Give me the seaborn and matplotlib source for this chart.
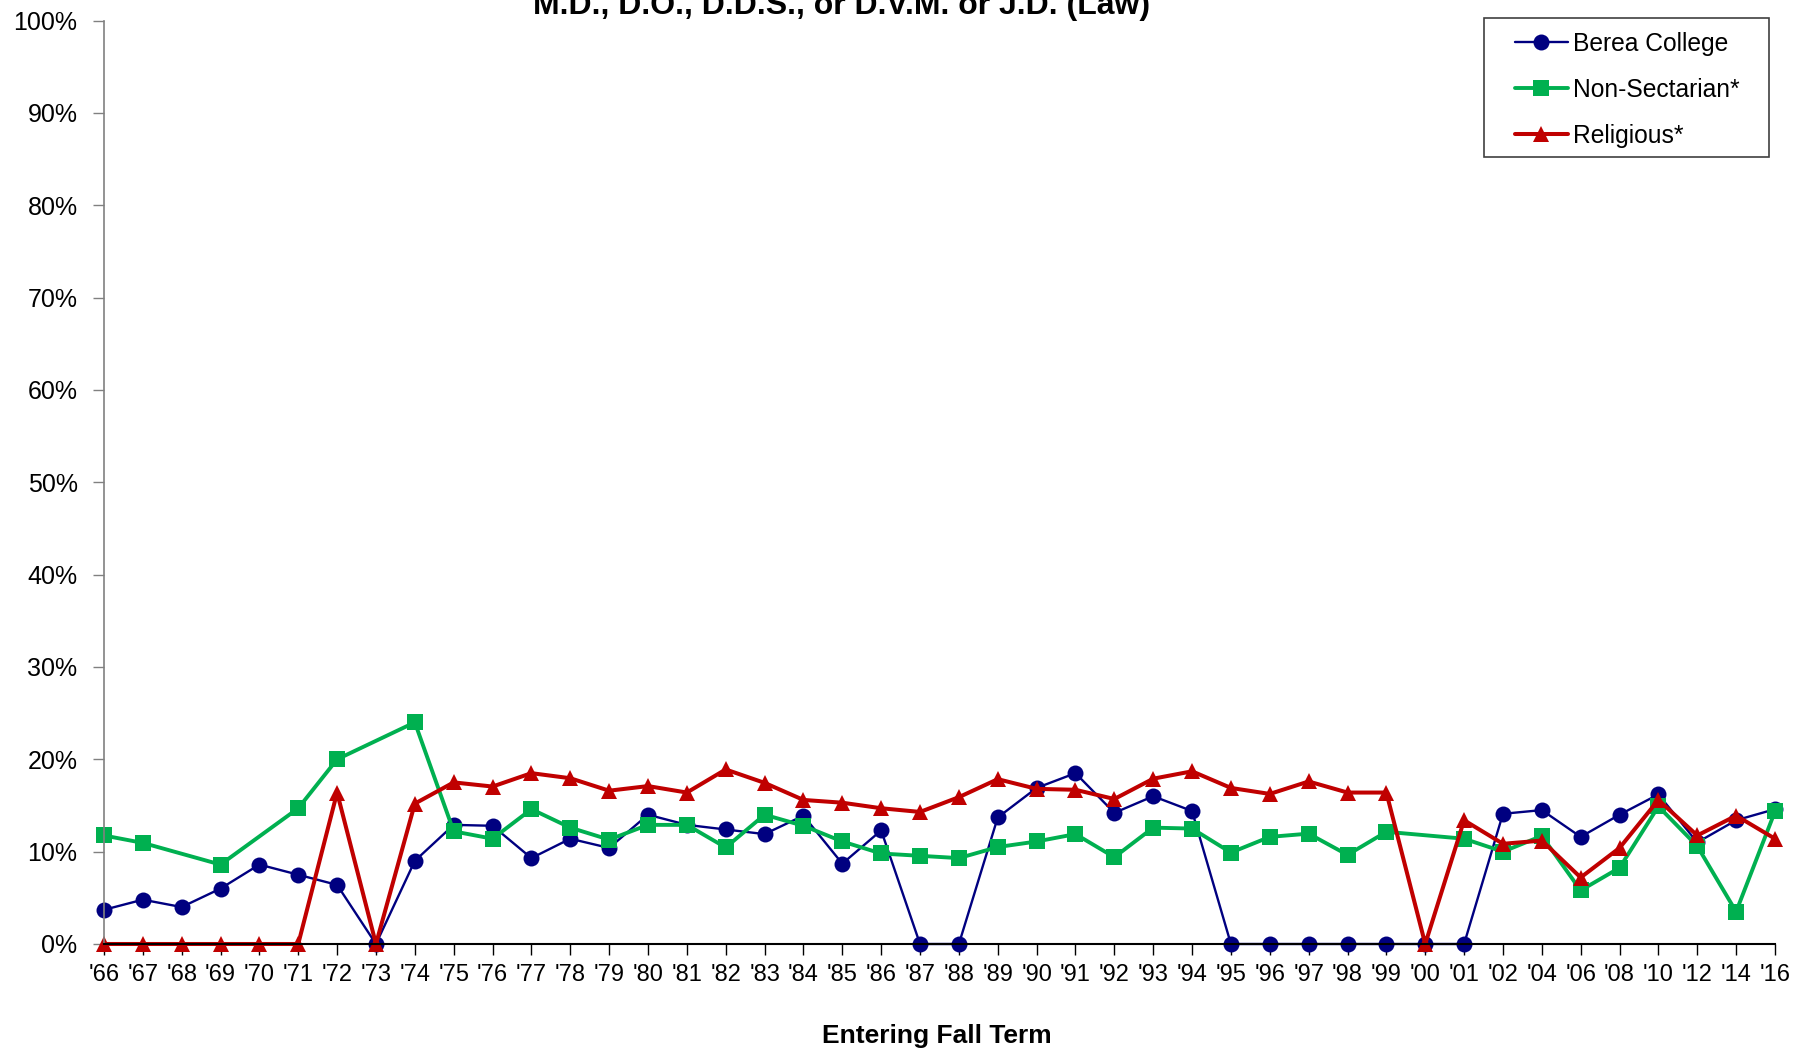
import numpy as np
import pandas as pd
import matplotlib
matplotlib.use("Agg")
import matplotlib.pyplot as plt
import seaborn as sns
from matplotlib.patches import Rectangle
from matplotlib.ticker import FuncFormatter, MultipleLocator

# entering fall term labels
years = ["'66", "'67", "'68", "'69", "'70", "'71", "'72", "'73", "'74", "'75",
         "'76", "'77", "'78", "'79", "'80", "'81", "'82", "'83", "'84", "'85",
         "'86", "'87", "'88", "'89", "'90", "'91", "'92", "'93", "'94", "'95",
         "'96", "'97", "'98", "'99", "'00", "'01", "'02", "'04", "'06", "'08",
         "'10", "'12", "'14", "'16"]

# percent of graduates
berea = [3.7, 4.8, 4.0, 6.0, 8.6, 7.5, 6.4, 0, 9.0, 12.9,
         12.8, 9.3, 11.4, 10.4, 14.0, 12.9, 12.4, 11.9, 13.9, 8.7,
         12.3, 0, 0, 13.7, 16.9, 18.5, 14.2, 16.0, 14.4, 0,
         0, 0, 0, 0, 0, 0, 14.1, 14.5, 11.6, 14.0,
         16.2, 11.0, 13.4, 14.6]
non_sectarian = [11.75, 10.95, np.nan, 8.6, np.nan, 14.7, 20.0, np.nan, 24.0, 12.2,
                 11.4, 14.6, 12.6, 11.3, 12.9, 12.9, 10.45, 14.0, 12.8, 11.1,
                 9.8, 9.55, 9.3, 10.5, 11.1, 11.9, 9.4, 12.6, 12.5, 9.9,
                 11.6, 11.95, 9.65, 12.15, np.nan, 11.4, 10.0, 11.7, 5.8, 8.25,
                 14.9, 10.6, 3.5, 14.35]
religious = [0, 0, 0, 0, 0, 0, 16.4, 0, 15.2, 17.5,
             17.05, 18.5, 17.95, 16.6, 17.1, 16.4, 18.9, 17.45, 15.6, 15.3,
             14.7, 14.3, 15.9, 17.85, 16.8, 16.7, 15.7, 17.9, 18.7, 16.9,
             16.25, 17.6, 16.4, 16.4, 0, 13.4, 10.85, 11.2, 7.2, 10.4,
             15.6, 11.75, 13.9, 11.4]

series_names = ["Berea College", "Non-Sectarian*", "Religious*"]
series_vals = [berea, non_sectarian, religious]

frames = []
for name, vals in zip(series_names, series_vals):
    frames.append(pd.DataFrame({"pos": np.arange(len(years)), "pct": vals, "series": name}))
df = pd.concat(frames, ignore_index=True)

styles = {
    "Berea College": dict(color="#000080", marker="o", lw=1.7, ms=11.5),
    "Non-Sectarian*": dict(color="#00B050", marker="s", lw=2.8, ms=11),
    "Religious*": dict(color="#C00000", marker="^", lw=2.9, ms=12),
}

sns.set_style("white")
plt.rcParams["font.family"] = ["Liberation Sans", "DejaVu Sans"]
plt.rcParams["text.color"] = "black"
plt.rcParams["xtick.color"] = "black"
plt.rcParams["ytick.color"] = "black"

fig = plt.figure(figsize=(17.98, 10.49), dpi=100)
ax = fig.add_axes([0.0578, 0.1001, 0.9294, 0.8803])

for name in series_names:
    sub = df[df["series"] == name].dropna()
    st = styles[name]
    sns.lineplot(data=sub, x="pos", y="pct", ax=ax, color=st["color"],
                 marker=st["marker"], markersize=st["ms"], linewidth=st["lw"],
                 markeredgewidth=0, label=name, errorbar=None, clip_on=False)

ax.set_xlim(0, len(years) - 1)
ax.set_ylim(0, 100)
ax.set_xticks(np.arange(len(years)))
ax.set_xticklabels(years)
ax.yaxis.set_major_locator(MultipleLocator(10))
ax.yaxis.set_major_formatter(FuncFormatter(lambda v, p: f"{v:.0f}%"))
ax.set_xlabel("")
ax.set_ylabel("")

for s in ["top", "right"]:
    ax.spines[s].set_visible(False)
ax.spines["left"].set_color("#808080")
ax.spines["left"].set_linewidth(1.2)
ax.spines["bottom"].set_color("#000000")
ax.spines["bottom"].set_linewidth(1.5)
ax.tick_params(axis="y", which="major", direction="out", length=8, width=1,
               color="#808080", labelcolor="black", labelsize=18, pad=11, left=True)
ax.tick_params(axis="x", which="major", direction="out", length=8, width=1,
               color="#000000", labelcolor="black", labelsize=17, pad=6.5, bottom=True)

# legend box drawn separately so the padding matches
leg = ax.legend(loc="upper left", bbox_to_anchor=(1515 / 1798, 1 - 31.5 / 1049),
                bbox_transform=fig.transFigure, fontsize=17.7, frameon=False,
                handlelength=2.15, handletextpad=0.2, labelspacing=0.90,
                borderpad=0, borderaxespad=0)
for t in leg.get_texts():
    t.set_color("black")
fig.patches.append(Rectangle((1484 / 1798, 1 - 157 / 1049), 285 / 1798, 139 / 1049,
                             transform=fig.transFigure, fill=False,
                             edgecolor="#404040", linewidth=1.2))

fig.text(842 / 1798, 1 - 14 / 1049, "M.D., D.O., D.D.S., or D.V.M. or J.D. (Law)",
         ha="center", va="baseline", fontsize=23, fontweight="bold")
fig.text(937 / 1798, 1 - 1043 / 1049, "Entering Fall Term", ha="center",
         va="baseline", fontsize=19, fontweight="bold")

fig.savefig("out.png", dpi=100)
